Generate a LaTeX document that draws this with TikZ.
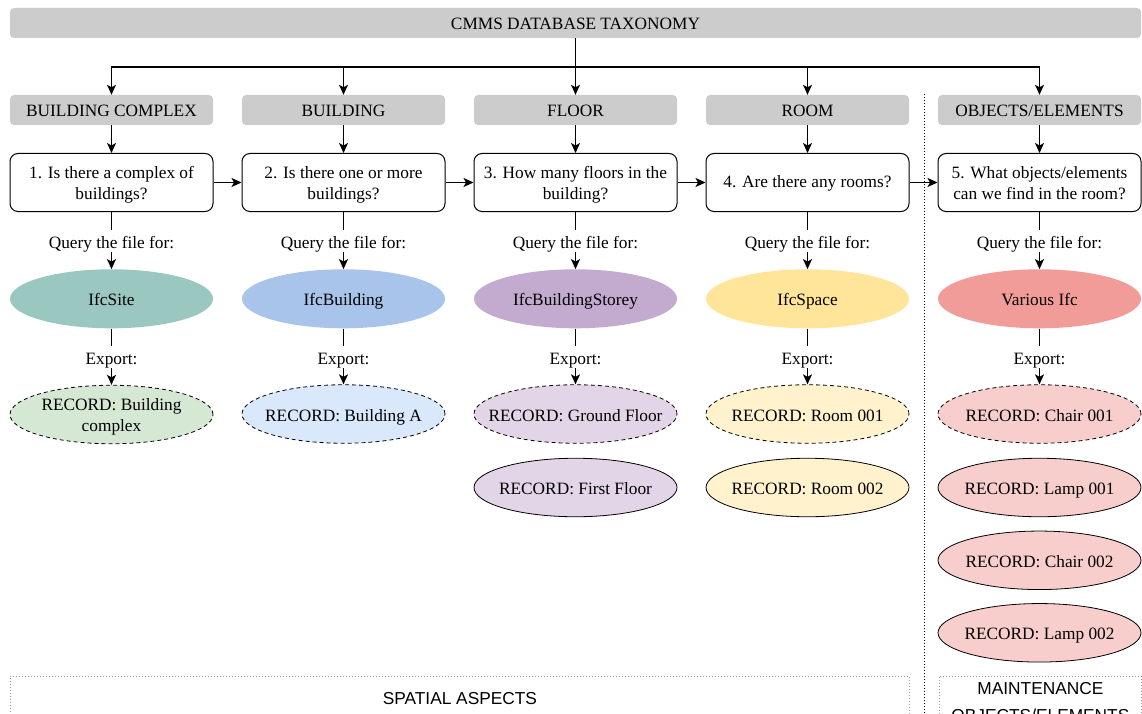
\documentclass[tikz,border=0pt]{standalone}
\usepackage{fontspec}
\setmainfont{Liberation Serif}
\setsansfont{Liberation Sans}
\usetikzlibrary{arrows.meta,shapes.geometric}
\definecolor{hdrgray}{HTML}{CCCCCC}
\definecolor{siteC}{HTML}{9AC7BF}
\definecolor{siteR}{HTML}{D5E8D4}
\definecolor{bldC}{HTML}{A9C4EB}
\definecolor{bldR}{HTML}{DAE8FC}
\definecolor{stC}{HTML}{C3ABD0}
\definecolor{stR}{HTML}{E1D5E7}
\definecolor{spC}{HTML}{FFE599}
\definecolor{spR}{HTML}{FFF2CC}
\definecolor{objC}{HTML}{F19C99}
\definecolor{objR}{HTML}{F8CECC}
\definecolor{dotgray}{HTML}{999999}
\newcommand{\twol}[1]{\begin{tabular}[b]{@{}c@{}}#1\end{tabular}}
\newcommand{\fxtext}[1]{\makebox[0pt][c]{\twol{#1}}}
\begin{document}
\begin{tikzpicture}[x=1pt,y=-1pt,
  font=\fontsize{17.3}{21}\selectfont,
  sl/.style={text height=18pt, text depth=4pt},
  dl/.style={text height=37pt, text depth=2.5pt},
  hdr/.style={sl, fill=hdrgray, rounded corners=4pt, minimum width=203pt, minimum height=30pt, inner sep=0pt},
  topbar/.style={hdr, minimum width=1131pt},
  qbox/.style={draw, line width=1pt, fill=white, rounded corners=8pt, minimum width=203pt, minimum height=58pt, inner sep=0pt},
  ifc/.style={sl, ellipse, minimum width=203pt, minimum height=59pt, inner sep=0pt},
  rec/.style={sl, ellipse, draw, line width=0.8pt, minimum width=203pt, minimum height=58.5pt, inner sep=0pt},
  recd/.style={rec, dash pattern=on 4pt off 3pt},
  arr/.style={-{Stealth[length=10pt,width=9pt,inset=2.5pt]}, line width=1.3pt},
  ln/.style={line width=1.3pt},
  lab/.style={sl, inner sep=0pt, minimum height=20pt},
  area/.style={draw=dotgray, line width=0.8pt, dash pattern=on 1.2pt off 1.8pt, minimum height=60pt, anchor=north west, inner sep=0pt, font=\sffamily\fontsize{17.3}{27}\selectfont},
]
\useasboundingbox (0,0) rectangle (1142,714);
\clip (0,0) rectangle (1142,714);

% top bar
\node[topbar] (top) at (575.5,23) {CMMS DATABASE TAXONOMY};
\coordinate (bus) at (575.5,67);

% headers
\node[hdr] (h1) at (111.5,110) {BUILDING COMPLEX};
\node[hdr] (h2) at (343.5,110) {BUILDING};
\node[hdr] (h3) at (575.5,110) {FLOOR};
\node[hdr] (h4) at (807.5,110) {ROOM};
\node[hdr] (h5) at (1039.5,110) {OBJECTS/ELEMENTS};

\draw[ln] (top.south) -- (bus);
\foreach \i in {1,...,5} \draw[arr] (bus) -| (h\i.north);

% questions
\node[qbox, dl] (q1) at (111.5,182.5) {\twol{1. Is there a complex of\\buildings?}};
\node[qbox, dl] (q2) at (343.5,182.5) {\twol{2. Is there one or more\\buildings?}};
\node[qbox, dl] (q3) at (575.5,182.5) {\twol{3. How many floors in the\\building?}};
\node[qbox, text height=17pt, text depth=6pt] (q4) at (807.5,182.5) {4. Are there any rooms?};
\node[qbox, dl] (q5) at (1039.5,182.5) {\twol{5. What objects/elements\\can we find in the room?}};

\foreach \i in {1,...,5} \draw[arr] (h\i.south) -- (q\i.north);
\draw[arr] (q1.east) -- (q2.west);
\draw[arr] (q2.east) -- (q3.west);
\draw[arr] (q3.east) -- (q4.west);
\draw[arr] (q4.east) -- (q5.west);

% query labels
\foreach \i/\x in {1/111.5,2/343.5,3/575.5,4/807.5,5/1039.5}
  \node[lab] (qf\i) at (\x,241) {Query the file for:};

% ifc ellipses
\node[ifc, fill=siteC] (i1) at (111.5,298.8) {IfcSite};
\node[ifc, fill=bldC] (i2) at (343.5,298.8) {IfcBuilding};
\node[ifc, fill=stC] (i3) at (575.5,298.8) {\fxtext{IfcBuildingStorey}};
\node[ifc, fill=spC] (i4) at (807.5,298.8) {IfcSpace};
\node[ifc, fill=objC] (i5) at (1039.5,298.8) {Various Ifc};

\foreach \i in {1,...,5} {
  \draw[ln] (q\i.south) -- (qf\i.north);
  \draw[arr] (qf\i.south) -- (i\i.north);
}

% export labels
\foreach \i/\x in {1/111.5,2/343.5,3/575.5,4/807.5,5/1039.5}
  \node[lab] (ex\i) at (\x,357) {Export:};

% records
\node[recd, fill=siteR, dl] (r1) at (111.5,414.5) {\fxtext{RECORD: Building\\complex}};
\node[recd, fill=bldR] (r2) at (343.5,414) {\fxtext{RECORD: Building A}};
\node[recd, fill=stR] (r3) at (575.5,414) {\fxtext{RECORD: Ground Floor}};
\node[recd, fill=spR] (r4) at (807.5,414) {\fxtext{RECORD: Room 001}};
\node[recd, fill=objR] (r5) at (1039.5,414) {\fxtext{RECORD: Chair 001}};

\foreach \i in {1,...,5} {
  \draw[ln] (i\i.south) -- (ex\i.north);
  \draw[arr] (ex\i.south) -- (r\i.north);
}

\node[rec, fill=stR] (r3b) at (575.5,487.5) {\fxtext{RECORD: First Floor}};
\node[rec, fill=spR] (r4b) at (807.5,487.5) {\fxtext{RECORD: Room 002}};
\node[rec, fill=objR] (r5b) at (1039.5,487.5) {\fxtext{RECORD: Lamp 001}};
\node[rec, fill=objR] (r5c) at (1039.5,560.3) {\fxtext{RECORD: Chair 002}};
\node[rec, fill=objR] (r5d) at (1039.5,632.8) {\fxtext{RECORD: Lamp 002}};

% separator
\draw[line width=0.8pt, dash pattern=on 1.2pt off 1.8pt] (924.3,94) -- (924.3,714);

% bottom areas
\node[area, minimum width=899pt, text height=12pt, text depth=15pt] (spatial) at (10,675.5) {SPATIAL ASPECTS};
\node[area, minimum width=202pt, text height=40pt, text depth=8pt] (maint) at (939,675.5) {\begin{tabular}[b]{@{}c@{}}MAINTENANCE\\OBJECTS/ELEMENTS\end{tabular}};
\end{tikzpicture}
\end{document}
